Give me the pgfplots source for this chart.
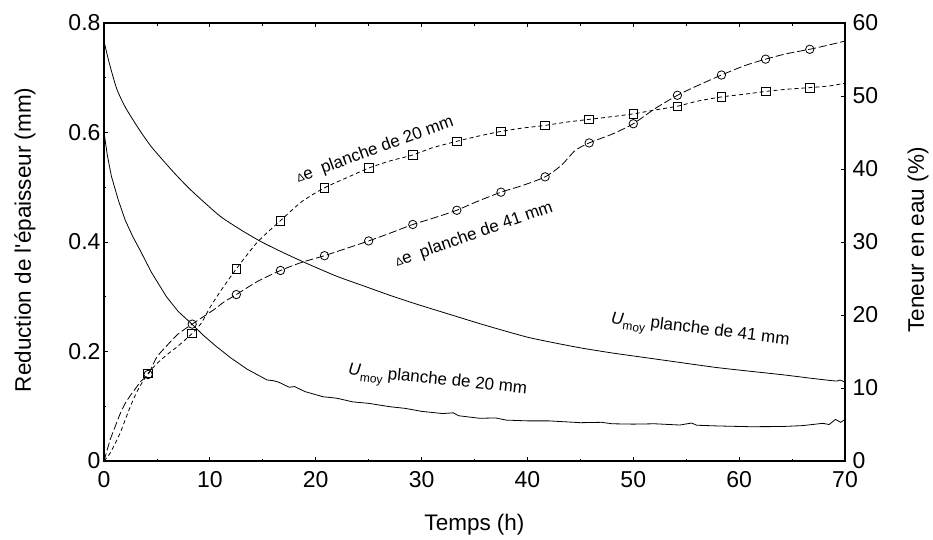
\documentclass[border=0pt]{standalone}
\usepackage{fontspec}
\setmainfont{Liberation Sans}
\usepackage{pgfplots}
\pgfplotsset{compat=1.18}
\begin{document}
\begin{tikzpicture}[font=\fontsize{22}{26}\selectfont]
\pgfplotsset{
  common/.style={
    scale only axis, width=741pt, height=438pt,
    xmin=0, xmax=70,
    tick align=inside,
    major tick length=4pt, minor tick length=2.5pt,
    /pgf/number format/assume math mode=true,
    tick label style={font=\fontsize{23}{26}\selectfont},
    axis line style={line width=1.3pt},
    every tick/.style={black, line width=0.8pt},
    every axis label/.style={font=\fontsize{22.5}{26}\selectfont},
  }
}
\begin{axis}[common,
  ymin=0, ymax=0.8,
  xtick={0,10,20,30,40,50,60,70}, minor x tick num=1,
  ytick={0,0.2,0.4,0.6,0.8}, minor y tick num=1,
  ytick pos=left, xticklabel pos=bottom,
  xticklabel style={yshift=-7pt},
  yticklabel style={/pgf/number format/fixed, /pgf/number format/precision=1},
  xlabel={Temps (h)},
  ylabel={Reduction de l\textquotesingle épaisseur (mm)},
  every axis x label/.style={at={(axis description cs:0.5,-0.146)}, anchor=center},
  every axis y label/.style={at={(axis description cs:-0.1066,0.505)}, anchor=center, rotate=90},
]
% Delta e planche de 41 mm (line)
\addplot[black, line width=0.8pt, dash pattern=on 8pt off 3pt, smooth, tension=0.4] coordinates {
(0,0) (0.3,0.02) (0.6,0.04) (1.0,0.06) (1.5,0.085) (2.0,0.105) (2.5,0.12) (3.0,0.133) (3.5,0.146)
(4.17,0.158) (5.0,0.19) (6.0,0.212) (7.0,0.232) (8.33,0.250) (9.5,0.265) (10.5,0.278) (11.3,0.29)
(12.5,0.304) (14.5,0.328) (16.67,0.348) (18.7,0.363) (20.83,0.375) (23,0.389) (25,0.402) (27,0.416)
(29.17,0.432) (31,0.443) (33.33,0.458) (35,0.472) (37.5,0.491) (39.5,0.503) (41.67,0.519) (43.2,0.54)
(44.5,0.567) (45.83,0.581) (48,0.597) (50,0.616) (52,0.643) (54.17,0.668) (56,0.685) (58.33,0.705)
(60.5,0.722) (62.5,0.734) (64.5,0.744) (66.67,0.752) (68.5,0.760) (70,0.767)
};
\addplot[black, only marks, mark=o, mark size=4.2pt, mark options={line width=0.8pt}] coordinates {
(4.17,0.158) (8.33,0.250) (12.5,0.304) (16.67,0.348) (20.83,0.375) (25,0.402) (29.17,0.432)
(33.33,0.458) (37.5,0.491) (41.67,0.519) (45.83,0.581) (50,0.616) (54.17,0.668) (58.33,0.705)
(62.5,0.734) (66.67,0.752)
};
% Delta e planche de 20 mm (line)
\addplot[black, line width=0.8pt, dash pattern=on 4pt off 3pt, smooth, tension=0.4] coordinates {
(0,0) (0.5,0.012) (1.0,0.03) (1.5,0.05) (2.0,0.075) (2.5,0.1) (3.0,0.122) (3.5,0.14)
(4.17,0.160) (5.0,0.178) (6.0,0.195) (7.0,0.21) (8.33,0.233) (9.2,0.252) (10.0,0.28) (11.0,0.31)
(12.5,0.351) (14.5,0.40) (16.67,0.439) (18.7,0.474) (20.83,0.499) (23,0.518) (25,0.535) (27,0.548)
(29.17,0.559) (31,0.572) (33.33,0.584) (35.5,0.594) (37.5,0.602) (39.5,0.608) (41.67,0.613)
(43.7,0.619) (45.83,0.624) (48,0.629) (50,0.634) (52,0.641) (54.17,0.648) (56,0.657) (58.33,0.665)
(60.5,0.670) (62.5,0.675) (64.5,0.679) (66.67,0.682) (68.5,0.685) (70,0.690)
};
\addplot[black, only marks, mark=square, mark size=4.3pt, mark options={line width=0.8pt}] coordinates {
(4.17,0.160) (8.33,0.233) (12.5,0.351) (16.67,0.439) (20.83,0.499) (25,0.535) (29.17,0.559)
(33.33,0.584) (37.5,0.602) (41.67,0.613) (45.83,0.624) (50,0.634) (54.17,0.648) (58.33,0.665)
(62.5,0.675) (66.67,0.682)
};
\node[rotate=20, font=\fontsize{17}{20}\selectfont] at (axis cs:25.6,0.568)
  {{\fontsize{11}{12}\selectfont Δ}e\ \ planche de 20 mm};
\node[rotate=19.5, font=\fontsize{17}{20}\selectfont] at (axis cs:34.95,0.413)
  {{\fontsize{11}{12}\selectfont Δ}e\ \ planche de 41 mm};
\node[rotate=-7, font=\fontsize{17}{20}\selectfont] at (axis cs:56.3,0.236)
  {\textit{U}\raisebox{-0.6ex}{\fontsize{12}{13}\selectfont moy} planche de 41 mm};
\node[rotate=-6, font=\fontsize{17}{20}\selectfont] at (axis cs:31.5,0.144)
  {\textit{U}\raisebox{-0.6ex}{\fontsize{12}{13}\selectfont moy} planche de 20 mm};
\end{axis}
\begin{axis}[common,
  ymin=0, ymax=60,
  axis y line*=right, axis x line=none,
  ytick={0,10,20,30,40,50,60},
  yticklabel style={xshift=4pt},
  ylabel={Teneur en eau (\%)},
  every axis y label/.style={at={(axis description cs:1.0985,0.505)}, anchor=center, rotate=90},
]
% U moy planche de 41 mm
\addplot[black, line width=0.8pt, smooth, tension=0.4] coordinates {
(0,57.5) (0.5,54.5) (1.2,51.0) (2.0,48.5) (3.24,45.6) (4.5,43.0) (6.55,39.6) (8,37.4) (9.23,35.75)
(11,33.5) (13,31.6) (14.9,30.0) (17,28.5) (19.1,27.1) (22,25.3) (24.5,24.0) (27,22.7) (29.5,21.5)
(32.4,20.2) (36,18.6) (39.9,17.0) (42.5,16.2) (45,15.5) (48,14.8) (51.6,14.07) (54.4,13.5) (57.9,12.8)
(61,12.3) (64.2,11.8) (67,11.3) (69.2,10.95) (69.5,11.1) (70,10.8)
};
% U moy planche de 20 mm
\addplot[black, line width=0.8pt] coordinates {
(0,45.1) (0.3,42) (0.7,39) (1.35,35.75) (2.0,33) (2.7,30.8) (3.4,28.9) (4.5,25.8) (5.9,22.5)
(7,20.5) (8.2,18.9) (9.4,17.2) (10.6,15.7) (12,14.1) (13.5,12.6) (15.4,11.1) (16,11.0) (16.5,10.8)
(17.5,10.1) (18,10.2) (19,9.5) (20.7,8.8) (22,8.6) (23.5,8.1) (25,7.9) (27,7.44) (28.5,7.2) (30,6.8) (32,6.5)
(33,6.6) (33.5,6.2) (35.5,5.85) (37,5.9) (38,5.6) (40,5.5) (42,5.5) (45,5.25) (47,5.3) (48,5.1)
(50,5.05) (52,5.1) (54.4,4.93) (55.5,5.2) (56,4.9) (58,4.8) (61,4.7) (64,4.72) (66,4.85)
(67.9,5.16) (68.5,5.0) (69.1,5.7) (69.6,5.3) (70,5.7)
};
\end{axis}
\pgfresetboundingbox
\path (current axis.south west) ++(-104pt,-78pt) rectangle ++(933pt,539pt);
\end{tikzpicture}
\end{document}
